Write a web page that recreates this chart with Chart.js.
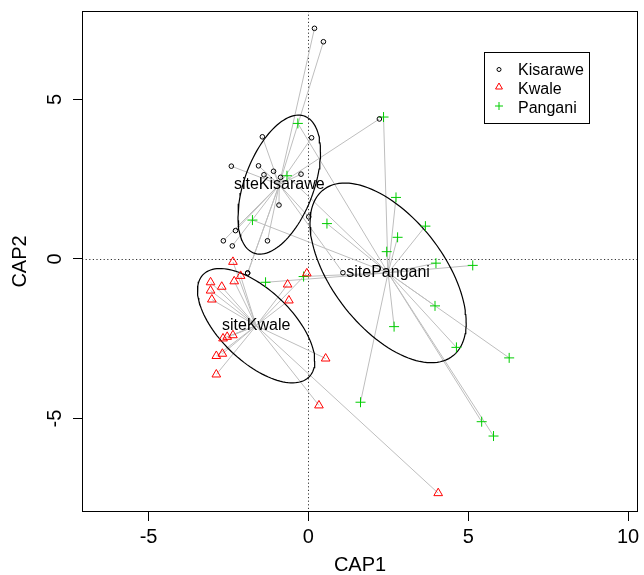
<!DOCTYPE html>
<html>
<head>
<meta charset="utf-8">
<script src="https://cdn.jsdelivr.net/npm/chart.js@4.4.1/dist/chart.umd.min.js"></script>
<style>
  html, body { margin: 0; padding: 0; background: #fff; }
  #wrap { width: 644px; height: 575px; }
</style>
</head>
<body>
<div id="wrap"><canvas id="capPlot" width="644" height="575"></canvas></div>
<script>
// Site groups and their CAP scores
const groups = ["Kisarawe", "Kwale", "Pangani"];

// last Kisarawe site sits on top of another one (hidden in the plot)
const kisaraweX = [0.19, 0.47, 2.22, -1.44, 0.10, -2.41, -1.56, -1.09, -1.39, -0.87, -0.23, -0.92, 0.01, -2.28, -2.66, -2.38, -1.28, -1.90, 1.08, -1.90];
const kisaraweY = [7.23, 6.81, 4.39, 3.83, 3.80, 2.91, 2.92, 2.75, 2.64, 2.56, 2.66, 1.69, 1.32, 0.89, 0.57, 0.41, 0.57, -0.44, -0.43, -0.44];

const kwaleX = [-2.36, -2.12, -2.32, -3.06, -2.71, -3.06, -3.02, -0.65, -0.61, -0.05, -2.67, -2.54, -2.36, -2.88, -2.69, -2.88, 0.54, 0.33, 4.06];
const kwaleY = [-0.09, -0.53, -0.70, -0.73, -0.87, -0.99, -1.27, -0.80, -1.30, -0.45, -2.49, -2.44, -2.39, -3.04, -2.97, -3.62, -3.12, -4.59, -7.34];

const panganiX = [2.35, 2.74, 3.66, 0.58, 2.79, 2.45, 3.99, 5.14, -0.15, 3.96, 2.68, 4.63, 6.28, 1.63, 5.42, 5.79, -0.33, -0.67, -1.75, -1.34];
const panganiY = [4.45, 1.93, 1.03, 1.11, 0.68, 0.23, -0.13, -0.20, -0.55, -1.47, -2.12, -2.77, -3.10, -4.49, -5.10, -5.55, 4.25, 2.61, 1.22, -0.73];

const xTicks = [-5, 0, 5, 10];
const yTicks = [-5, 0, 5];

const groupColors = ["#000000", "#FF0000", "#00CD00"];
const groupStyles = ["circle", "triangle", "cross"];
const groupRadius = [2.3, 5, 5];

const FONT = "'Liberation Sans', Arial, Helvetica, sans-serif";

const groupX = [kisaraweX, kwaleX, panganiX];
const groupY = [kisaraweY, kwaleY, panganiY];

function mean(a) {
  return a.reduce((s, v) => s + v, 0) / a.length;
}

// spider centre = mean of the group's scores
const centroids = groupX.map((xs, g) => ({ x: mean(xs), y: mean(groupY[g]) }));

// one standard deviation ellipse, like ordiellipse(kind = "sd")
function sdEllipse(xs, ys, c) {
  const n = xs.length;
  let sxx = 0, syy = 0, sxy = 0;
  for (let i = 0; i < n; i++) {
    const dx = xs[i] - c.x, dy = ys[i] - c.y;
    sxx += dx * dx; syy += dy * dy; sxy += dx * dy;
  }
  sxx /= n - 1; syy /= n - 1; sxy /= n - 1;
  const a = Math.sqrt(sxx), b = sxy / a, d = Math.sqrt(syy - b * b);
  const pts = [];
  for (let k = 0; k <= 120; k++) {
    const t = (2 * Math.PI * k) / 120;
    pts.push({ x: c.x + a * Math.cos(t), y: c.y + b * Math.cos(t) + d * Math.sin(t) });
  }
  return pts;
}

// spider: centroid -> point, separated by gaps
function spider(xs, ys, c) {
  const pts = [];
  xs.forEach((x, i) => {
    pts.push({ x: c.x, y: c.y }, { x: x, y: ys[i] }, { x: c.x, y: null });
  });
  return pts;
}

const pointSets = groups.map((name, g) => ({
  label: name,
  data: groupX[g].map((x, i) => ({ x: x, y: groupY[g][i] })),
  pointStyle: groupStyles[g],
  pointRadius: groupRadius[g],
  pointBorderColor: groupColors[g],
  pointBackgroundColor: "rgba(0,0,0,0)",
  pointBorderWidth: 1,
  showLine: false,
}));

const ellipseSets = groups.map((name, g) => ({
  label: "ellipse " + name,
  data: sdEllipse(groupX[g], groupY[g], centroids[g]),
  showLine: true,
  borderColor: "#000",
  borderWidth: 1.2,
  pointRadius: 0,
  tension: 0,
}));

const spiderSets = groups.map((name, g) => ({
  label: "spider " + name,
  data: spider(groupX[g], groupY[g], centroids[g]),
  showLine: true,
  spanGaps: false,
  borderColor: "#BEBEBE",
  borderWidth: 1,
  pointRadius: 0,
}));

// zero lines, frame, rotated y tick labels, centroid labels, legend
const rDecor = {
  id: "rDecor",
  beforeDatasetsDraw(chart) {
    const { ctx, chartArea, scales } = chart;
    const x0 = Math.round(scales.x.getPixelForValue(0)) + 0.5;
    const y0 = Math.round(scales.y.getPixelForValue(0)) + 0.5;
    ctx.save();
    ctx.strokeStyle = "#333";
    ctx.lineWidth = 1;
    ctx.setLineDash([1.2, 2.4]);
    ctx.beginPath();
    ctx.moveTo(x0, chartArea.top);
    ctx.lineTo(x0, chartArea.bottom);
    ctx.moveTo(chartArea.left, y0);
    ctx.lineTo(chartArea.right, y0);
    ctx.stroke();
    ctx.restore();
  },
  afterDatasetsDraw(chart) {
    const { ctx, scales } = chart;
    ctx.save();
    ctx.fillStyle = "#000";
    ctx.font = "16px " + FONT;
    ctx.textAlign = "center";
    ctx.textBaseline = "middle";
    groups.forEach((name, g) => {
      ctx.fillText("site" + name, scales.x.getPixelForValue(centroids[g].x), scales.y.getPixelForValue(centroids[g].y));
    });
    ctx.restore();
  },
  afterDraw(chart) {
    const { ctx, chartArea, scales } = chart;
    ctx.save();
    ctx.strokeStyle = "#000";
    ctx.lineWidth = 1;
    ctx.strokeRect(chartArea.left + 0.5, chartArea.top + 0.5, chartArea.width - 1, chartArea.height - 1);

    // y tick labels, read bottom to top as in R
    ctx.fillStyle = "#000";
    ctx.font = "20px " + FONT;
    ctx.textAlign = "center";
    ctx.textBaseline = "middle";
    scales.y.ticks.forEach((t) => {
      ctx.save();
      ctx.translate(55, scales.y.getPixelForValue(t.value));
      ctx.rotate(-Math.PI / 2);
      ctx.fillText(String(t.value), 0, 0);
      ctx.restore();
    });

    // legend box
    const bx = 484.5, by = 52.5, bw = 105, bh = 71;
    ctx.fillStyle = "#fff";
    ctx.fillRect(bx, by, bw, bh);
    ctx.strokeRect(bx, by, bw, bh);
    const rowY = [70.8, 89.8, 108.2];
    const symY = [69.5, 87, 106];
    const symR = [2, 4, 4];
    ctx.font = "16px " + FONT;
    ctx.textAlign = "left";
    groups.forEach((name, g) => {
      ctx.strokeStyle = groupColors[g];
      ctx.fillStyle = "rgba(0,0,0,0)";
      ctx.lineWidth = 1;
      Chart.helpers.drawPoint(ctx, { pointStyle: groupStyles[g], radius: symR[g], rotation: 0, borderWidth: 1 }, 499, symY[g]);
      ctx.fillStyle = "#000";
      ctx.fillText(name, 518, rowY[g]);
    });
    ctx.restore();
  },
};

const ctx = document.getElementById("capPlot").getContext("2d");
new Chart(ctx, {
  type: "scatter",
  data: { datasets: [...pointSets, ...ellipseSets, ...spiderSets] },
  options: {
    responsive: false,
    animation: false,
    layout: { padding: { left: 0, right: 5, top: 11, bottom: 0 } },
    plugins: { legend: { display: false }, tooltip: { enabled: false } },
    scales: {
      x: {
        type: "linear",
        min: -7.081,
        max: 10.309,
        afterBuildTicks: (scale) => { scale.ticks = xTicks.map((v) => ({ value: v })); },
        afterFit: (scale) => { scale.height = 63; },
        border: { display: false },
        grid: { drawOnChartArea: false, drawTicks: true, tickLength: 9, color: "#000", lineWidth: 1 },
        ticks: { color: "#000", font: { family: FONT, size: 20 }, padding: 4, maxRotation: 0, callback: (v) => String(v) },
        title: { display: true, text: "CAP1", color: "#000", font: { family: FONT, size: 20, lineHeight: 1 }, padding: { top: 0, bottom: 0 } },
      },
      y: {
        type: "linear",
        min: -7.931,
        max: 7.774,
        afterBuildTicks: (scale) => { scale.ticks = yTicks.map((v) => ({ value: v })); },
        afterFit: (scale) => { scale.width = 82; },
        border: { display: false },
        grid: { drawOnChartArea: false, drawTicks: true, tickLength: 9, color: "#000", lineWidth: 1 },
        ticks: { display: false },
        title: { display: true, text: "CAP2", color: "#000", font: { family: FONT, size: 20, lineHeight: 1 }, padding: { top: 10, bottom: 0 } },
      },
    },
  },
  plugins: [rDecor],
});
</script>
</body>
</html>
